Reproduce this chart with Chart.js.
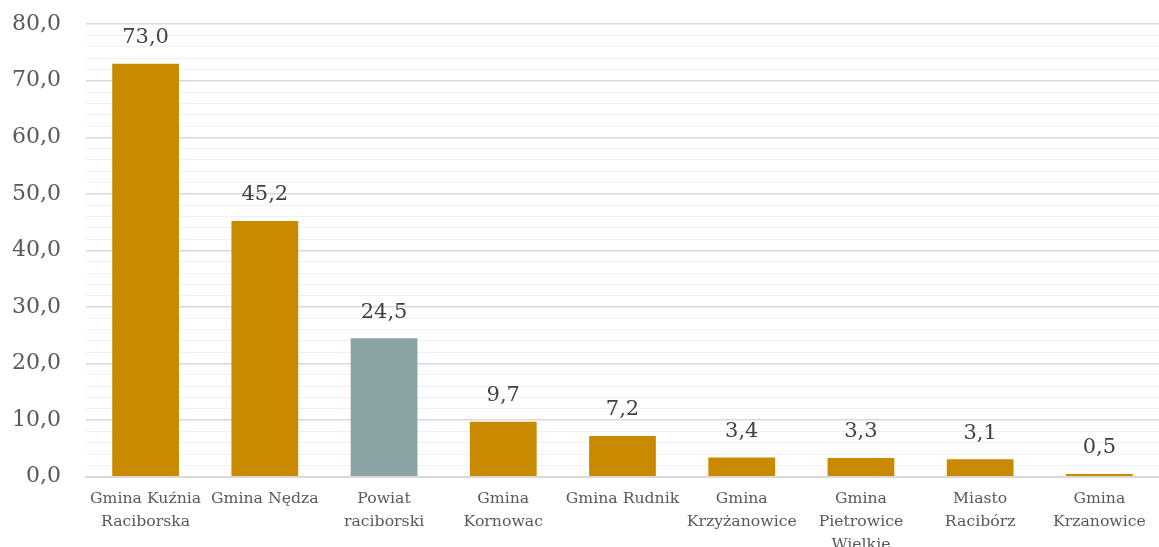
<!DOCTYPE html>
<html>
<head>
<meta charset="utf-8">
<script src="https://cdn.jsdelivr.net/npm/chart.js@4"></script>
<style>
html,body{margin:0;padding:0;background:#fff;overflow:hidden;}
#wrap{width:1159px;height:561px;position:absolute;left:0;top:-14px;}
</style>
</head>
<body>
<div id="wrap"><canvas id="c"></canvas></div>
<script>
const categories = [
  ["Gmina Kuźnia", "Raciborska"],
  "Gmina Nędza",
  ["Powiat", "raciborski"],
  ["Gmina", "Kornowac"],
  "Gmina Rudnik",
  ["Gmina", "Krzyżanowice"],
  ["Gmina", "Pietrowice", "Wielkie"],
  ["Miasto", "Racibórz"],
  ["Gmina", "Krzanowice"]
];
const values = [73.0, 45.2, 24.5, 9.7, 7.2, 3.4, 3.3, 3.1, 0.5];
const highlightIndex = 2;
const yMin = 0, yMax = 80, yMajorStep = 10, yMinorStep = 2;

const GOLD = '#C98A00';
const GREY = '#8BA3A5';
const FONT = "'DejaVu Serif', serif";

const fmt = v => v.toFixed(1).replace('.', ',');

const labelPlugin = {
  id: 'valueLabels',
  afterDatasetsDraw(chart) {
    const ctx = chart.ctx;
    const meta = chart.getDatasetMeta(0);
    ctx.save();
    ctx.font = "21px " + FONT;
    ctx.fillStyle = '#404040';
    ctx.textAlign = 'center';
    ctx.textBaseline = 'middle';
    meta.data.forEach((bar, i) => {
      ctx.fillText(fmt(values[i]), bar.x, bar.y - 26);
    });
    ctx.restore();
  }
};

new Chart(document.getElementById('c'), {
  type: 'bar',
  data: {
    labels: categories,
    datasets: [{
      data: values,
      backgroundColor: values.map((v, i) => i === highlightIndex ? GREY : GOLD),
      borderWidth: 0,
      categoryPercentage: 1.0,
      barPercentage: 0.56
    }]
  },
  options: {
    responsive: true,
    maintainAspectRatio: false,
    animation: false,
    layout: { padding: { left: -13, right: 0, top: -4, bottom: -20 } },
    plugins: { legend: { display: false }, tooltip: { enabled: false } },
    scales: {
      x: {
        grid: { display: false, drawTicks: false },
        border: { display: true, color: '#d9d9d9', width: 2 },
        ticks: {
          autoSkip: false, maxRotation: 0, minRotation: 0,
          color: '#595959',
          font: { family: FONT, size: 15.7, lineHeight: 1.45 },
          padding: 11
        }
      },
      y: {
        min: yMin, max: yMax,
        grid: {
          drawTicks: false,
          color: c => (c.tick.value % yMajorStep === 0) ? '#d9d9d9' : '#f0f0f0',
          lineWidth: c => (c.tick.value % yMajorStep === 0) ? 1.5 : 1
        },
        border: { display: false },
        ticks: {
          stepSize: yMinorStep,
          autoSkip: false,
          maxTicksLimit: 100,
          color: '#595959',
          font: { family: FONT, size: 22 },
          padding: 25,
          callback: v => (v % yMajorStep === 0) ? fmt(v) : ''
        }
      }
    }
  },
  plugins: [labelPlugin]
});
</script>
</body>
</html>
